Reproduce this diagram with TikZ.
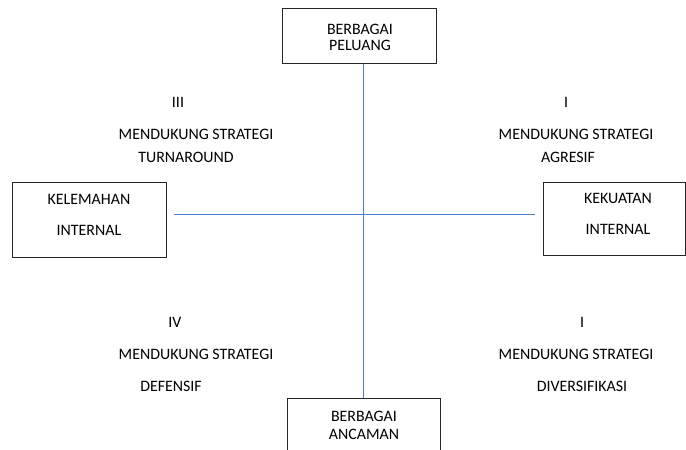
\documentclass[tikz,border=0pt]{standalone}
\usepackage{fontspec}
\setmainfont{Carlito}
\usetikzlibrary{positioning}
\definecolor{axisblue}{RGB}{80,124,205}

\begin{document}
\begin{tikzpicture}[
    x=1pt, y=-1pt,
    every node/.style={font=\fontsize{15.9}{18}\selectfont},
    box/.style={draw=black!85, line width=0.8pt, align=center, inner sep=0pt},
    axis/.style={draw=axisblue, line width=1pt},
    txt/.style={inner sep=0pt},
]
\useasboundingbox (0,0) rectangle (686,450);

% ---------- four boxes ----------
\node[box, minimum width=154pt, minimum height=55pt] (peluang) at (359,35.5) {};
\node[txt, align=center] (peluangtxt) at (360,37) {BERBAGAI\\[-2pt]PELUANG};
\node[box, minimum width=154pt, minimum height=75pt] (kelemahan) at (89,219.5) {};
\node[txt, align=center] (kelemahantxt) at (89,215) {KELEMAHAN\\[13pt]INTERNAL};
\node[box, minimum width=142pt, minimum height=73pt] (kekuatan) at (614.5,218.5) {};
\node[txt, align=center] (kekuatantxt) at (618,214) {KEKUATAN\\[13pt]INTERNAL};
\node[box, minimum width=153pt, minimum height=60pt] (ancaman) at (363.5,428) {};
\node[txt, align=center] (ancamantxt) at (364,425) {BERBAGAI\\[0pt]ANCAMAN};

% ---------- axes ----------
\coordinate (vtop) at (363,64);
\coordinate (vbot) at (ancaman.north -| vtop);
\coordinate (hleft) at (174,214);
\coordinate (hright) at (535,214);
\draw[axis] (vtop) -- (vbot);
\draw[axis] (hleft) -- (hright);

% ---------- quadrant III ----------
\node[txt] (q3) at (178,102) {III};
\node[txt] (q3a) at (196,134) {MENDUKUNG STRATEGI};
\node[txt] (q3b) at (186,157) {TURNAROUND};

% ---------- quadrant I (top right) ----------
\node[txt] (q1) at (566,102) {I};
\node[txt] (q1a) at (576,134) {MENDUKUNG STRATEGI};
\node[txt] (q1b) at (568,157) {AGRESIF};

% ---------- quadrant IV ----------
\node[txt] (q4) at (175,322) {IV};
\node[txt] (q4a) at (196,354) {MENDUKUNG STRATEGI};
\node[txt] (q4b) at (171,386) {DEFENSIF};

% ---------- quadrant I (bottom right) ----------
\node[txt] (q2) at (582,322) {I};
\node[txt] (q2a) at (576,354) {MENDUKUNG STRATEGI};
\node[txt] (q2b) at (582,386) {DIVERSIFIKASI};

\end{tikzpicture}
\end{document}
